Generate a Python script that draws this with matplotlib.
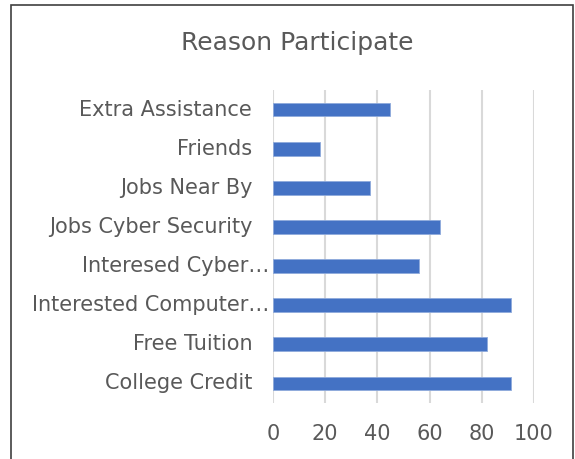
import matplotlib.pyplot as plt
import matplotlib.transforms as mtransforms
from matplotlib.patches import Rectangle

# categories bottom to top
categories = ["College Credit", "Free Tuition", "Interested Computer…", "Interesed Cyber…",
              "Jobs Cyber Security", "Jobs Near By", "Friends", "Extra Assistance"]
values = [91, 82, 91, 56, 64, 37, 18, 45]
xticks = [0, 20, 40, 60, 80, 100]

text_color = "#595959"

fig = plt.figure(figsize=(5.75, 4.59), dpi=100)
ax = fig.add_axes([273 / 575, 1 - 403 / 459, 261 / 575, 313 / 459])

ax.barh(range(len(categories)), values, height=0.35, color="#4472C4",
        edgecolor="#8FAADC", linewidth=0.6, zorder=3)

ax.set_xlim(0, 100)
ax.set_ylim(-0.5, len(categories) - 0.5)
ax.set_xticks(xticks)
ax.set_yticks(range(len(categories)))
ax.set_yticklabels(categories, va="center")
ax.grid(axis="x", color="#d9d9d9", linewidth=1.5, zorder=0)
ax.tick_params(length=0, labelsize=15, colors=text_color)
ax.tick_params(axis="x", pad=15)
ax.tick_params(axis="y", pad=15)
for s in ax.spines.values():
    s.set_visible(False)

# truncated labels run a bit further right, like Excel does
shift = mtransforms.ScaledTranslation(17 / 100, 0, fig.dpi_scale_trans)
for lbl in ax.get_yticklabels():
    if lbl.get_text().endswith("…"):
        lbl.set_transform(lbl.get_transform() + shift)

fig.text(297 / 575, 1 - 43 / 459, "Reason Participate", ha="center", va="center",
         fontsize=18, color=text_color)

# chart border
fig.patches.append(Rectangle((11 / 575, -0.1), 562 / 575, 1.1 - 5 / 459,
                             transform=fig.transFigure, fill=False,
                             edgecolor="#404040", linewidth=1.2))

fig.savefig("out.png", dpi=100)
